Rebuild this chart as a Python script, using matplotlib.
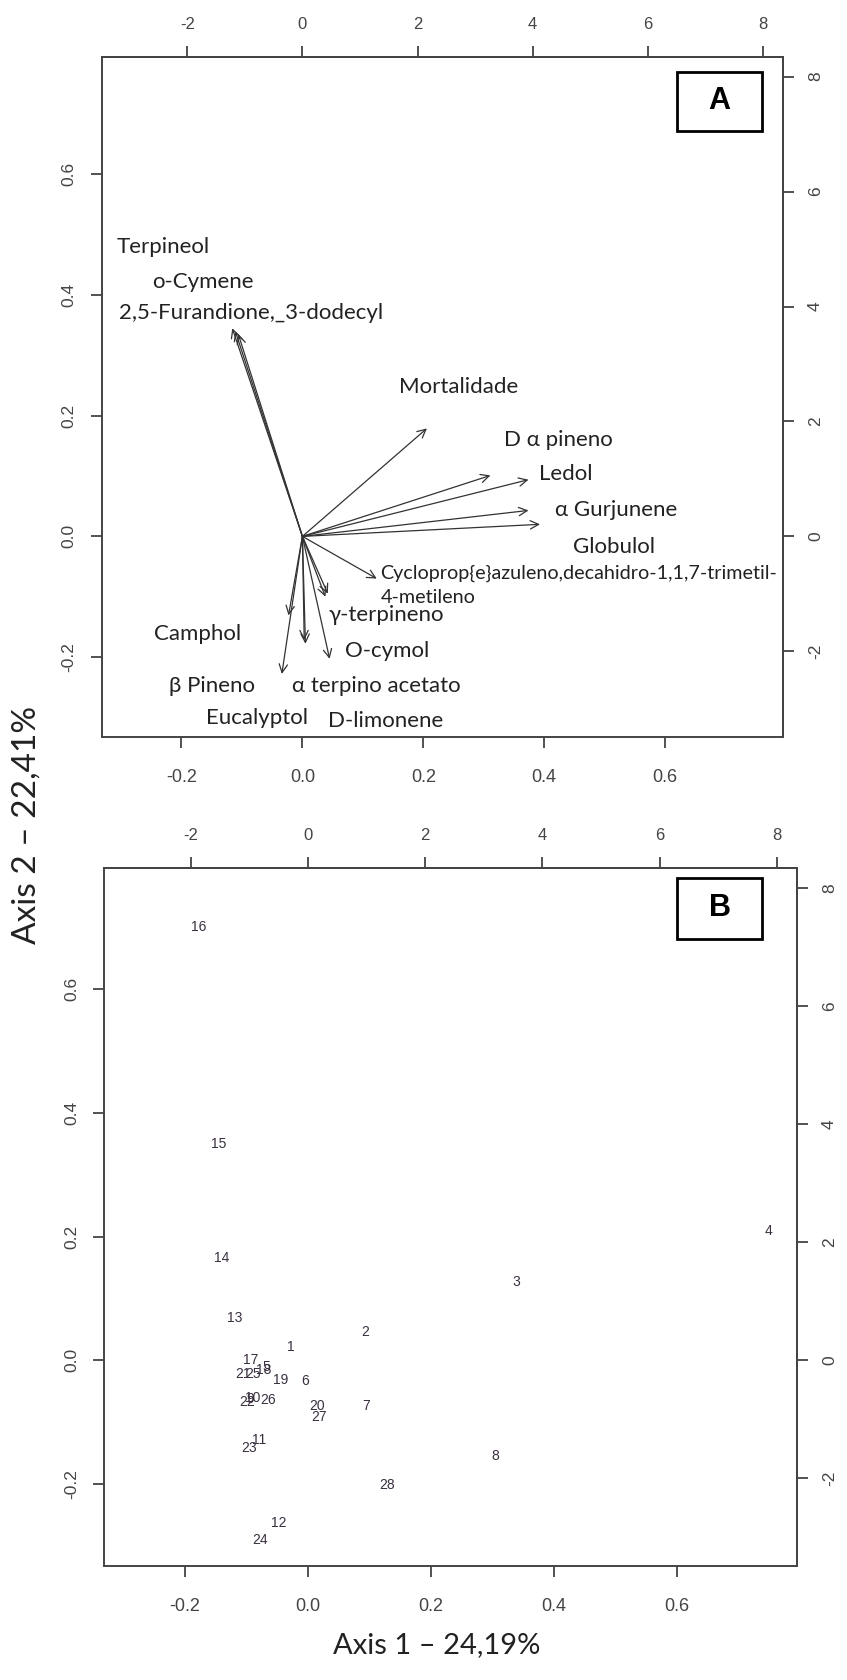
import matplotlib
matplotlib.use("Agg")
import matplotlib.pyplot as plt
from matplotlib.patches import Rectangle

# ---------------- data ----------------
# Panel A: variable loadings (arrow tips, primary axis units)
var_names = ["Terpineol", "o-Cymene", "2,5-Furandione,_3-dodecyl", "Mortalidade",
             "D α pineno", "Ledol", "α Gurjunene", "Globulol",
             "Cycloprop{e}azuleno,decahidro-1,1,7-trimetil-\n4-metileno",
             "γ-terpineno", "Camphol", "O-cymol", "β Pineno", "α terpino acetato",
             "Eucalyptol", "D-limonene"]
var_x = [-0.116, -0.111, -0.106, 0.206, 0.311, 0.374, 0.374, 0.393, 0.123,
         0.042, -0.023, 0.045, -0.034, 0.005, 0.003, 0.038]
var_y = [0.345, 0.340, 0.335, 0.179, 0.101, 0.094, 0.043, 0.020, -0.070,
         -0.095, -0.131, -0.203, -0.228, -0.178, -0.172, -0.100]

# Panel B: sample scores
obs_labels = ["1", "2", "3", "4", "5", "6", "7", "8", "9", "10", "11", "12", "13", "14",
              "15", "16", "17", "18", "19", "20", "21", "22", "23", "24", "25", "26", "27", "28"]
obs_x = [-0.028, 0.092, 0.339, 0.748, -0.068, -0.005, 0.095, 0.304, -0.094, -0.091,
         -0.079, -0.048, -0.119, -0.140, -0.146, -0.178, -0.093, -0.073, -0.044, 0.014,
         -0.106, -0.100, -0.096, -0.079, -0.089, -0.065, 0.018, 0.129]
obs_y = [0.022, 0.046, 0.126, 0.209, -0.010, -0.033, -0.074, -0.155, -0.062, -0.060,
         -0.129, -0.262, 0.069, 0.165, 0.350, 0.700, 0.000, -0.015, -0.032, -0.074,
         -0.022, -0.068, -0.142, -0.290, -0.022, -0.064, -0.092, -0.201]

xlab = "Axis 1 \u2013 24,19%"
ylab = "Axis 2 \u2013 22,41%"
prim_ticks = [-0.2, 0.0, 0.2, 0.4, 0.6]
sec_ticks = [-2, 0, 2, 4, 6, 8]

# ---------------- layout ----------------
W, H = 847, 1680
LIM = (-0.332, 0.795)
RATIO = 10.5
AXC = "#444444"
TICKC = "#444444"

fig = plt.figure(figsize=(W / 100, H / 100), dpi=100)


def make_axes(l, t, r, b):
    ax = fig.add_axes([l / W, 1 - b / H, (r - l) / W, (b - t) / H])
    ax.set_xlim(LIM)
    ax.set_ylim(LIM)
    for s in ax.spines.values():
        s.set_color(AXC)
        s.set_linewidth(1.4)
    ax.set_xticks(prim_ticks)
    ax.set_yticks(prim_ticks)
    ax.set_xticklabels(["%.1f" % v for v in prim_ticks],
                       family="Liberation Sans", fontsize=13, color=TICKC)
    ax.set_yticklabels(["%.1f" % v for v in prim_ticks], rotation=90, va="center",
                       family="Liberation Sans", fontsize=12.5, color=TICKC)
    ax.tick_params(axis="both", length=8, width=1.3, color=AXC, pad=10)
    ax.tick_params(axis="x", pad=15)
    secx = ax.secondary_xaxis("top", functions=(lambda v: v * RATIO, lambda v: v / RATIO))
    secy = ax.secondary_yaxis("right", functions=(lambda v: v * RATIO, lambda v: v / RATIO))
    secx.set_xticks(sec_ticks)
    secy.set_yticks(sec_ticks)
    secx.set_xticklabels([str(v) for v in sec_ticks], family="Liberation Sans",
                         fontsize=12, color=TICKC)
    secy.set_yticklabels([str(v) for v in sec_ticks], rotation=90, va="center",
                         family="Liberation Sans", fontsize=12.5, color=TICKC)
    secx.tick_params(length=8, width=1.3, color=AXC, pad=10)
    secy.tick_params(length=8, width=1.3, color=AXC, pad=10)
    for sp in list(secx.spines.values()) + list(secy.spines.values()):
        sp.set_color(AXC)
        sp.set_linewidth(1.4)
    return ax


axA = make_axes(101.7, 56.7, 783, 736.7)
axB = make_axes(104, 868, 797, 1566)

# ---- panel A arrows ----
for x, y in zip(var_x, var_y):
    axA.annotate("", xy=(x, y), xytext=(0, 0),
                 arrowprops=dict(arrowstyle="->", color="#333333", lw=0.9,
                                 shrinkA=0, shrinkB=0, mutation_scale=15))

# label placements (layout, data units of panel A)
lab_pos = [(-0.307, 0.480), (-0.249, 0.422), (-0.304, 0.370), (0.159, 0.248),
           (0.334, 0.160), (0.391, 0.104), (0.418, 0.044), (0.448, -0.017),
           (0.129, -0.081), (0.043, -0.131), (-0.246, -0.161), (0.071, -0.190),
           (-0.221, -0.248), (-0.017, -0.248), (-0.160, -0.301), (0.043, -0.306)]
for name, (lx, ly) in zip(var_names, lab_pos):
    if name.startswith("Cycloprop"):
        axA.text(lx, ly, name, fontsize=14.2, family=["Lato", "DejaVu Sans"],
                 ha="left", va="center", color="#222222", linespacing=1.55)
    else:
        axA.text(lx, ly, name, fontsize=16, family=["Lato", "DejaVu Sans"],
                 ha="left", va="center", color="#222222")

# ---- panel B points ----
for lab, x, y in zip(obs_labels, obs_x, obs_y):
    axB.text(x, y, lab, fontsize=10, family="Liberation Sans", ha="center",
             va="center", color="#3a2f3f")

# ---- panel letters ----
for ax, letter, box in ((axA, "A", (0.844, 0.891, 0.125, 0.087)),
                        (axB, "B", (0.827, 0.898, 0.123, 0.088))):
    x0, y0, bw, bh = box
    ax.add_patch(Rectangle((x0, y0), bw, bh, transform=ax.transAxes,
                           fill=False, lw=2, edgecolor="black"))
    ax.text(x0 + bw / 2, y0 + bh / 2, letter, transform=ax.transAxes, ha="center",
            va="center", fontsize=22, fontweight="bold", family="Liberation Sans")

fig.text(27 / W, 1 - 825 / H, ylab, rotation=90, ha="center", va="center",
         fontsize=24, family=["Lato", "DejaVu Sans"], color="#222222")
fig.text(437 / W, 1 - 1645 / H, xlab, ha="center", va="center",
         fontsize=21, family=["Lato", "DejaVu Sans"], color="#222222")

fig.savefig("out.png", dpi=100)
